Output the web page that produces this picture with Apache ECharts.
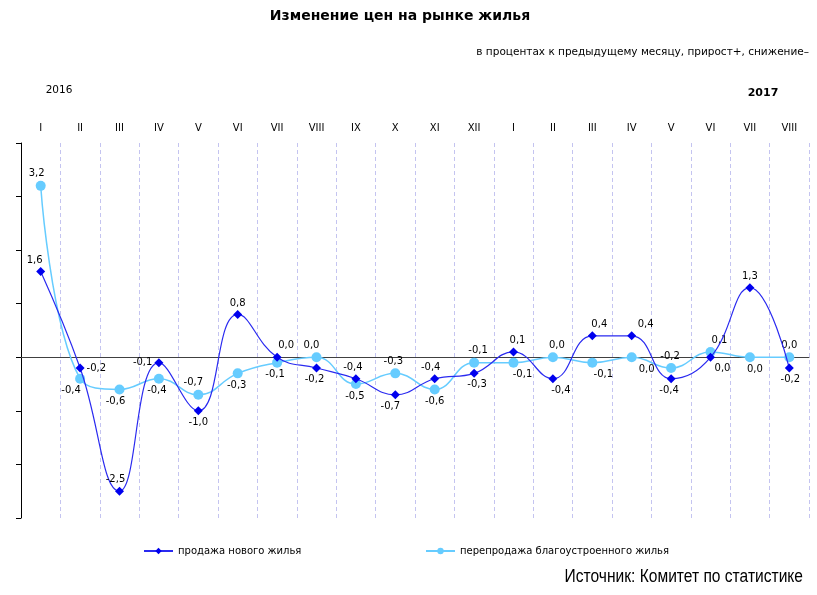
<!DOCTYPE html>
<html>
<head>
<meta charset="utf-8">
<script src="https://cdn.jsdelivr.net/npm/echarts@6/dist/echarts.min.js"></script>
<style>html,body{margin:0;padding:0;background:#fff}#c{width:817px;height:595px}</style>
</head>
<body>
<div id="c"></div>
<script>
var months = ['I','II','III','IV','V','VI','VII','VIII','IX','X','XI','XII','I','II','III','IV','V','VI','VII','VIII'];
var newHousing = [1.6,-0.2,-2.5,-0.1,-1.0,0.8,0.0,-0.2,-0.4,-0.7,-0.4,-0.3,0.1,-0.4,0.4,0.4,-0.4,0.0,1.3,-0.2];
var resale = [3.2,-0.4,-0.6,-0.4,-0.7,-0.3,-0.1,0.0,-0.5,-0.3,-0.6,-0.1,-0.1,0.0,-0.1,0.0,-0.2,0.1,0.0,0.0];
var seriesNames = ['продажа нового жилья','перепродажа благоустроенного жилья'];
var yearLabels = ['2016','2017'];

// label placement (style only)
var newLab = [['top',-6],['right',0],['top',-4],['left',0],['bottom',0],['top',0],['top',9],['bottom',-2],['top',-3],['bottom',-5],['top',-4],['bottom',3],['top',4],['bottom',8],['top',7],['top',14],['bottom',-2],['bottom',12],['top',0],['bottom',1]];
var resLab = [['top',-4],['bottom',-9],['bottom',-4],['bottom',-2],['top',-5],['bottom',-1],['bottom',-2],['top',-5],['bottom',-1],['top',-2],['bottom',0],['top',4],['bottom',9],['top',4],['bottom',11],['bottom',15],['top',-1],['top',9],['bottom',5],['top',0]];

function fmt(v){ return v.toFixed(1).replace('.', ','); }
function build(vals, labs){
  return vals.map(function(v,i){
    return {value: v, label: {position: labs[i][0], offset: [labs[i][1], 0]}};
  });
}
var lblFont = {show:true, color:'#000', fontSize:10, fontFamily:'DejaVu Sans', distance:2,
  formatter: function(p){ return fmt(p.value); }};
var legText = {fontSize:10, fontFamily:'DejaVu Sans', color:'#000'};

var chart = echarts.init(document.getElementById('c'));
chart.setOption({
  animation:false,
  backgroundColor:'#fff',
  grid:{left:21, right:8, top:143, bottom:77},
  xAxis:[{
    type:'category', data:months, boundaryGap:true,
    axisLine:{show:true, onZero:true, lineStyle:{color:'#404040', width:1}},
    axisTick:{show:false}, axisLabel:{show:false},
    splitLine:{show:true, interval:0, lineStyle:{color:'#c4c4f0', type:[4,3], width:1}}
  },{
    type:'category', data:months, position:'top', boundaryGap:true,
    axisLine:{show:false}, axisTick:{show:false}, splitLine:{show:false},
    axisLabel:{show:true, interval:0, color:'#000', fontSize:10, fontFamily:'DejaVu Sans', margin:10}
  }],
  yAxis:{
    type:'value', min:-3, max:4, interval:1,
    axisLine:{show:true, lineStyle:{color:'#000', width:1}},
    axisTick:{show:true, inside:false, length:5, lineStyle:{color:'#000'}},
    axisLabel:{show:false}, splitLine:{show:false}
  },
  legend:[{
    data:[seriesNames[0]], left:143, top:546, padding:0, itemWidth:29, itemHeight:8, itemGap:10,
    textStyle:legText
  },{
    data:[seriesNames[1]], left:425, top:546, padding:0, itemWidth:29, itemHeight:8, itemGap:10,
    textStyle:legText
  }],
  graphic:[
    {type:'text', x:400, y:16, style:{text:'Изменение цен на рынке жилья', font:'bold 14px "DejaVu Sans"', fill:'#000', textAlign:'center', textVerticalAlign:'middle'}},
    {type:'text', x:809, y:52, style:{text:'в процентах к предыдущему месяцу, прирост+, снижение–', font:'10.5px "DejaVu Sans"', fill:'#000', textAlign:'right', textVerticalAlign:'middle'}},
    {type:'text', x:59, y:90, style:{text:yearLabels[0], font:'10.5px "DejaVu Sans"', fill:'#000', textAlign:'center', textVerticalAlign:'middle'}},
    {type:'text', x:763, y:93, style:{text:yearLabels[1], font:'bold 11px "DejaVu Sans"', fill:'#000', textAlign:'center', textVerticalAlign:'middle'}},
    {type:'text', x:803, y:577, scaleX:0.89, style:{text:'Источник: Комитет по статистике', font:'17.5px "Liberation Sans"', fill:'#000', textAlign:'right', textVerticalAlign:'middle'}}
  ],
  series:[{
    name:seriesNames[0], type:'line', smooth:0.45, z:3,
    data:build(newHousing, newLab),
    symbol:'diamond', symbolSize:9,
    itemStyle:{color:'#0000ee'},
    lineStyle:{color:'#2a2af0', width:1.2},
    label:lblFont
  },{
    name:seriesNames[1], type:'line', smooth:0.45, z:2,
    data:build(resale, resLab),
    symbol:'circle', symbolSize:10,
    itemStyle:{color:'#66ccff'},
    lineStyle:{color:'#66ccff', width:1.5},
    label:lblFont
  }]
});
</script>
</body>
</html>
